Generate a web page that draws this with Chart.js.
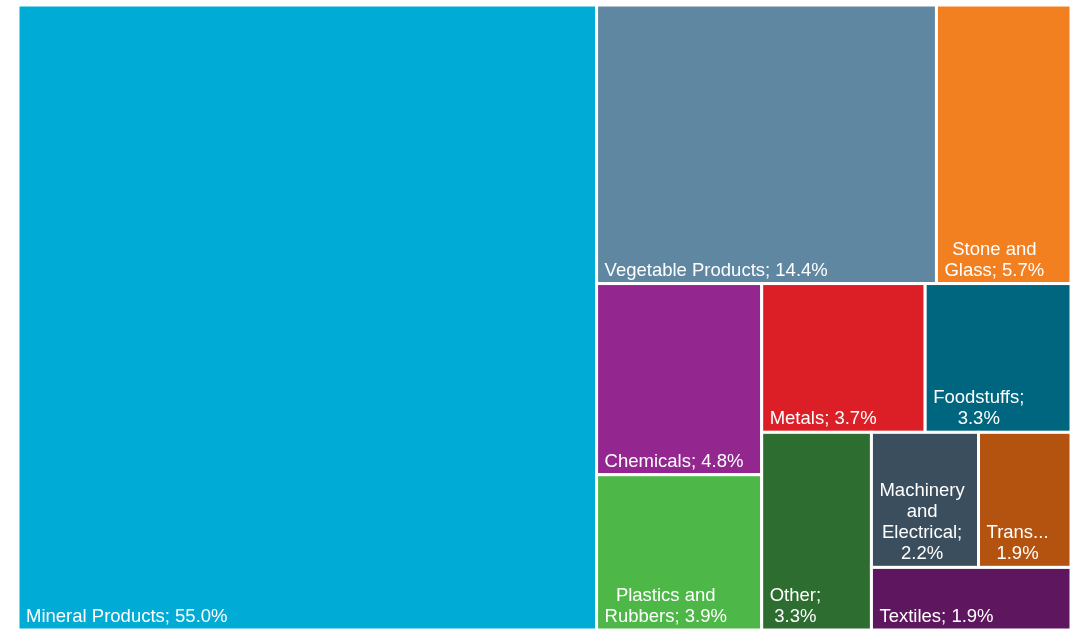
<!DOCTYPE html>
<html>
<head>
<meta charset="utf-8">
<script src="https://cdn.jsdelivr.net/npm/chart.js@4/dist/chart.umd.min.js"></script>
<style>
    html, body { margin: 0; padding: 0; background: #fff; }
    #wrap { width: 1084px; height: 635px; }
</style>
</head>
<body>
<div id="wrap"><canvas id="treemap" width="1084" height="635"></canvas></div>
<script>
// === Data ===
const categories = [
    "Mineral Products", "Vegetable Products", "Stone and Glass", "Chemicals",
    "Plastics and Rubbers", "Metals", "Foodstuffs", "Other",
    "Machinery and Electrical", "Transportation", "Textiles"
];
const shares = [55.0, 14.4, 5.7, 4.8, 3.9, 3.7, 3.3, 3.3, 2.2, 1.9, 1.9];
const colors = [
    "#00abd6", "#5f87a1", "#f28021", "#93278f",
    "#4db848", "#dc1f26", "#00667f", "#2d6d2f",
    "#3b4e5e", "#b4520f", "#5e175e"
];

// === Squarified layout, strips alternate between columns and rows ===
function squarify(values, rect) {
    const total = values.reduce((a, b) => a + b, 0);
    const k = (rect.w * rect.h) / total;
    const out = [];
    const r = { ...rect };
    let vertical = r.w >= r.h;
    let i = 0;

    const worst = (row, side) => {
        const s = row.reduce((a, b) => a + b, 0) * k;
        let m = 0;
        row.forEach(v => {
            const a = v * k;
            m = Math.max(m, (side * side * a) / (s * s), (s * s) / (side * side * a));
        });
        return m;
    };

    while (i < values.length) {
        const side = vertical ? r.h : r.w;
        let row = [values[i]];
        let j = i + 1;
        while (j < values.length) {
            const next = row.concat(values[j]);
            if (worst(next, side) > worst(row, side)) break;
            row = next;
            j++;
        }
        const thick = row.reduce((a, b) => a + b, 0) * k / side;
        let off = 0;
        row.forEach(v => {
            const len = v * k / thick;
            out.push(vertical
                ? { x: r.x, y: r.y + off, w: thick, h: len }
                : { x: r.x + off, y: r.y, w: len, h: thick });
            off += len;
        });
        if (vertical) { r.x += thick; r.w -= thick; } else { r.y += thick; r.h -= thick; }
        vertical = !vertical;
        i = j;
    }
    return out;
}

// === Label wrapping ===
// words that don't fit get cut with "..." (a bit of extra room kept)
function fitWord(ctx, word, maxW) {
    if (ctx.measureText(word).width <= maxW) return word;
    let w = word;
    while (w.length > 1 && ctx.measureText(w + "...").width > maxW - 8) w = w.slice(0, -1);
    return w + "...";
}

function wrapLabel(ctx, text, maxW) {
    if (ctx.measureText(text).width <= maxW) return [text];
    const lines = [];
    let cur = "";
    text.split(" ").forEach(word => {
        const test = cur ? cur + " " + word : word;
        if (ctx.measureText(test).width <= maxW) {
            cur = test;
        } else {
            if (cur) lines.push(cur);
            cur = fitWord(ctx, word, maxW);
        }
    });
    if (cur) lines.push(cur);
    return lines;
}

// === Plugin drawing the cells ===
const treemapPlugin = {
    id: "treemapCells",
    afterDatasetsDraw(chart) {
        const { ctx, scales } = chart;
        const ds = chart.data.datasets[0];
        const x0 = scales.x.getPixelForValue(0);
        const x1 = scales.x.getPixelForValue(100);
        const y0 = scales.y.getPixelForValue(0);
        const y1 = scales.y.getPixelForValue(100);
        const rects = squarify(ds.data, { x: x0, y: y0, w: x1 - x0, h: y1 - y0 });

        const pad = 8;
        const lineH = 21;
        ctx.save();
        ctx.font = "18.5px 'Liberation Sans', Arial, sans-serif";
        rects.forEach((r, idx) => {
            ctx.fillStyle = ds.backgroundColor[idx];
            ctx.fillRect(r.x, r.y, r.w, r.h);
            ctx.strokeStyle = "#ffffff";
            ctx.lineWidth = 3;
            ctx.strokeRect(r.x, r.y, r.w, r.h);

            const label = `${chart.data.labels[idx]}; ${ds.data[idx].toFixed(1)}%`;
            const lines = wrapLabel(ctx, label, r.w - pad * 2);
            const blockW = Math.max(...lines.map(l => ctx.measureText(l).width));
            const bottom = r.y + r.h - 8;
            ctx.fillStyle = "#ffffff";
            ctx.textBaseline = "alphabetic";
            lines.forEach((line, li) => {
                const lw = ctx.measureText(line).width;
                const tx = lines.length > 1 ? r.x + pad + (blockW - lw) / 2 : r.x + pad;
                const ty = bottom - (lines.length - 1 - li) * lineH;
                ctx.fillText(line, tx, ty);
            });
        });
        ctx.restore();
    }
};

new Chart(document.getElementById("treemap"), {
    type: "scatter",
    data: {
        labels: categories,
        datasets: [{
            data: shares,
            backgroundColor: colors,
            pointRadius: 0,
            showLine: false
        }]
    },
    options: {
        responsive: false,
        animation: false,
        layout: { padding: { left: 18, top: 5, right: 13, bottom: 5 } },
        scales: {
            x: { type: "linear", min: 0, max: 100, display: false },
            y: { type: "linear", min: 0, max: 100, reverse: true, display: false }
        },
        plugins: {
            legend: { display: false },
            tooltip: { enabled: false }
        }
    },
    plugins: [treemapPlugin]
});
</script>
</body>
</html>
